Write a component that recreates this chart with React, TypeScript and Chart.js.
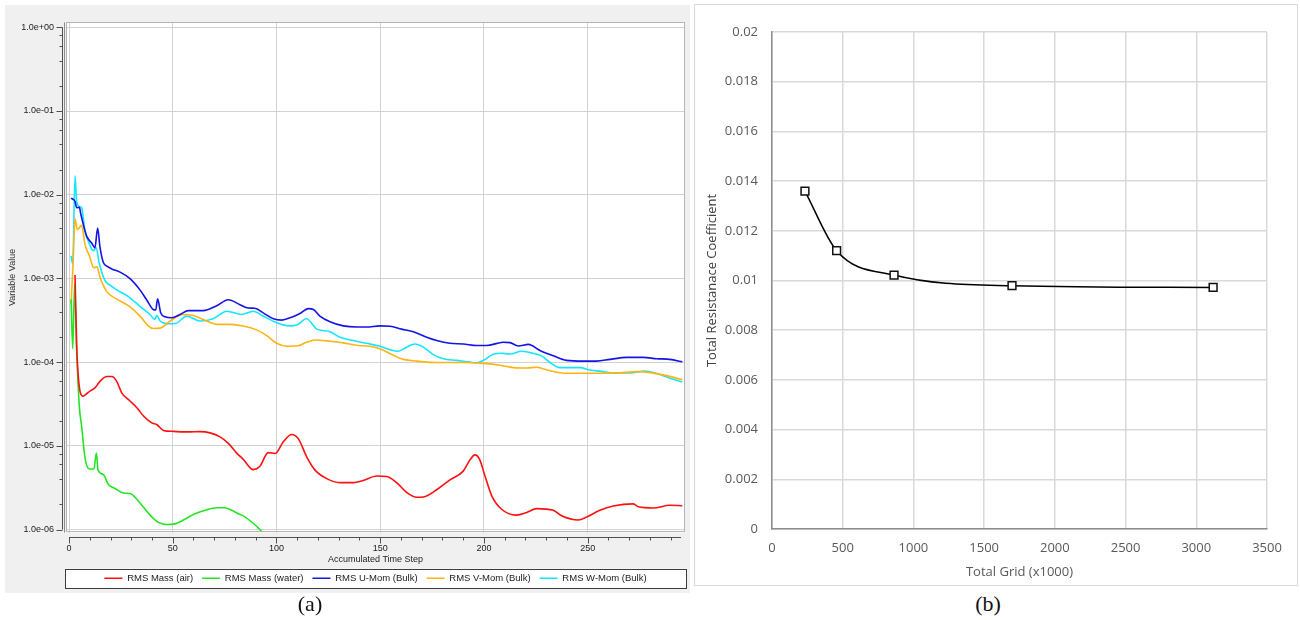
import React, { useEffect, useRef } from "react";
import { Chart, registerables } from "chart.js";

Chart.register(...registerables);

// ---------- (a) residual history ----------
const xTickValuesA = [0, 50, 100, 150, 200, 250];
const xTickLabelsA = ["0", "50", "100", "150", "200", "250"];
const yDecadesA = [1, 1e-1, 1e-2, 1e-3, 1e-4, 1e-5, 1e-6];
const yTickLabelsA = ["1.0e+00", "1.0e-01", "1.0e-02", "1.0e-03", "1.0e-04", "1.0e-05", "1.0e-06"];
const seriesNamesA = ["RMS Mass (air)", "RMS Mass (water)", "RMS U-Mom (Bulk)", "RMS V-Mom (Bulk)", "RMS W-Mom (Bulk)"];

const rmsMassAir: [number, number][] = [
  [2.9, 1.1e-3], [3.7, 1.58e-4], [5.3, 4.5e-5], [6.6, 3.93e-5], [8, 4.1e-5], [10.1, 4.5e-5], [12.5, 4.92e-5],
  [14.9, 5.9e-5], [18.2, 6.74e-5], [20.6, 6.74e-5], [23, 5.9e-5], [25.4, 4.3e-5], [29.4, 3.44e-5], [32.6, 2.88e-5],
  [35.8, 2.29e-5], [39.9, 1.88e-5], [42.3, 1.8e-5], [45.5, 1.53e-5], [50.3, 1.49e-5], [55.1, 1.47e-5], [58.3, 1.47e-5],
  [63.1, 1.48e-5], [68, 1.43e-5], [72.8, 1.28e-5], [76.8, 1.07e-5], [80.8, 8.2e-6], [84, 6.9e-6], [88.8, 5.2e-6],
  [92, 5.7e-6], [96, 8.3e-6], [99.3, 8.1e-6], [103.3, 1.12e-5], [107.3, 1.37e-5], [110.5, 1.22e-5], [114.5, 7.46e-6],
  [118.6, 5.13e-6], [124.2, 4.06e-6], [130.6, 3.64e-6], [137, 3.64e-6], [141.8, 3.85e-6], [148.3, 4.36e-6],
  [153.1, 4.3e-6], [157.9, 3.64e-6], [162.7, 2.78e-6], [167.6, 2.43e-6], [170.8, 2.45e-6], [177.2, 2.99e-6],
  [183.6, 3.92e-6], [190, 4.99e-6], [193.3, 6.82e-6], [195.7, 7.8e-6], [198, 6.8e-6], [200.5, 4.36e-6],
  [203.7, 2.55e-6], [208.5, 1.75e-6], [215.7, 1.49e-6], [220.6, 1.6e-6], [225.4, 1.78e-6], [233.4, 1.7e-6],
  [237.4, 1.46e-6], [245.5, 1.3e-6], [249.5, 1.41e-6], [255.9, 1.7e-6], [262.3, 1.91e-6], [272, 2.03e-6],
  [274.4, 1.87e-6], [281.6, 1.81e-6], [289.6, 1.95e-6], [295.6, 1.93e-6],
];

const rmsMassWater: [number, number][] = [
  [1, 5.6e-4], [1.8, 1.45e-4], [2.7, 8.7e-4], [3.6, 1.58e-4], [5, 2.9e-5], [6.1, 1.7e-5], [7.7, 7.2e-6],
  [9.8, 5.3e-6], [12, 5.3e-6], [13.2, 8.2e-6], [14, 5.1e-6], [16.5, 4.56e-6], [18.9, 3.48e-6], [22.2, 3.1e-6],
  [26.2, 2.73e-6], [29.4, 2.7e-6], [32.6, 2.32e-6], [35.8, 1.86e-6], [39.9, 1.42e-6], [43.1, 1.22e-6],
  [47.1, 1.15e-6], [51.1, 1.17e-6], [55.1, 1.3e-6], [60.7, 1.55e-6], [66.4, 1.73e-6], [71.2, 1.82e-6],
  [75, 1.82e-6], [78.4, 1.7e-6], [82.4, 1.51e-6], [84, 1.46e-6], [88.8, 1.19e-6], [92.9, 9.5e-7],
];

const rmsUMom: [number, number][] = [
  [1, 9.1e-3], [2, 8.8e-3], [2.9, 8.3e-3], [3.7, 7.0e-3], [5, 7.1e-3], [5.6, 6.0e-3], [6.9, 4.4e-3], [8.5, 3.2e-3],
  [10.9, 2.65e-3], [12.5, 2.33e-3], [13.8, 4.0e-3], [14.9, 2.4e-3], [16.5, 1.56e-3], [18.9, 1.37e-3],
  [20.6, 1.3e-3], [24.6, 1.19e-3], [29.4, 9.95e-4], [34.2, 7.3e-4], [37.4, 5.56e-4], [40.6, 4.25e-4],
  [41.8, 4.2e-4], [42.7, 5.7e-4], [44.2, 3.89e-4], [46.3, 3.48e-4], [49.5, 3.39e-4], [53.5, 3.71e-4],
  [57.5, 4.13e-4], [64.7, 4.13e-4], [71.2, 4.73e-4], [76.8, 5.56e-4], [82.4, 4.86e-4], [86.4, 4.43e-4],
  [89.6, 4.4e-4], [93.6, 3.88e-4], [98.5, 3.3e-4], [102.5, 3.18e-4], [107.3, 3.45e-4], [111.3, 3.81e-4],
  [115.3, 4.36e-4], [117.8, 4.25e-4], [120.9, 3.55e-4], [125.8, 3.04e-4], [132.2, 2.71e-4], [138.6, 2.63e-4],
  [143.4, 2.63e-4], [149.9, 2.71e-4], [154.7, 2.68e-4], [160.3, 2.48e-4], [166, 2.31e-4], [172.4, 1.98e-4],
  [177.2, 1.81e-4], [183.6, 1.68e-4], [190, 1.65e-4], [196.5, 1.58e-4], [201.3, 1.58e-4], [209.3, 1.73e-4],
  [212.6, 1.71e-4], [216.5, 1.56e-4], [221.4, 1.63e-4], [227, 1.38e-4], [233.4, 1.19e-4], [239.8, 1.05e-4],
  [247.9, 1.03e-4], [254.3, 1.03e-4], [260.7, 1.08e-4], [268.8, 1.14e-4], [276.8, 1.14e-4], [283.2, 1.1e-4],
  [289.6, 1.08e-4], [295.6, 1.01e-4],
];

const rmsVMom: [number, number][] = [
  [1, 5e-4], [2, 1.6e-3], [2.9, 5.2e-3], [4, 3.83e-3], [6.1, 4.3e-3], [7.7, 2.55e-3], [9.8, 1.87e-3],
  [12, 1.34e-3], [13.5, 1.38e-3], [14.9, 1.04e-3], [18.2, 6.95e-4], [23, 5.65e-4], [28.6, 4.73e-4],
  [34.2, 3.55e-4], [38.2, 2.71e-4], [40.6, 2.52e-4], [43.9, 2.55e-4], [48.7, 3.1e-4], [55.1, 3.71e-4],
  [59.9, 3.6e-4], [66.4, 3.1e-4], [71.2, 2.83e-4], [77.6, 2.83e-4], [84, 2.71e-4], [90.4, 2.43e-4],
  [95.3, 2.07e-4], [100.1, 1.68e-4], [104.9, 1.55e-4], [110.5, 1.57e-4], [114.5, 1.73e-4], [118.6, 1.84e-4],
  [125.8, 1.78e-4], [132.2, 1.7e-4], [139.4, 1.58e-4], [145, 1.55e-4], [150.7, 1.42e-4], [156.3, 1.21e-4],
  [161.1, 1.08e-4], [167.6, 1.03e-4], [177.2, 9.9e-5], [190, 9.9e-5], [199.7, 9.66e-5], [207.7, 9.2e-5],
  [214.1, 8.6e-5], [220.6, 8.5e-5], [225.4, 8.7e-5], [231.8, 7.9e-5], [239.8, 7.37e-5], [251.1, 7.37e-5],
  [264, 7.4e-5], [273.6, 7.7e-5], [281.6, 7.4e-5], [288, 6.9e-5], [295.6, 6.16e-5],
];

const rmsWMom: [number, number][] = [
  [1, 1.86e-3], [1.8, 1.5e-3], [2.9, 1.68e-2], [3.7, 8.2e-3], [5.3, 7.2e-3], [6.1, 7.0e-3], [7.7, 3.7e-3],
  [9.8, 2.6e-3], [11.7, 2.14e-3], [13.1, 2.33e-3], [14.5, 1.55e-3], [17.3, 9.5e-4], [19.8, 8.3e-4], [23, 7.3e-4],
  [28.6, 6.08e-4], [34.2, 4.64e-4], [39, 3.71e-4], [41.4, 3.24e-4], [42.3, 3.6e-4], [43.9, 3.1e-4],
  [47.9, 2.88e-4], [51.4, 2.9e-4], [56.7, 3.55e-4], [63.1, 3.1e-4], [69.5, 3.3e-4], [76, 4.06e-4],
  [83.2, 3.71e-4], [88.8, 4.06e-4], [93.6, 3.55e-4], [100.1, 2.96e-4], [106.5, 2.71e-4], [109.7, 2.77e-4],
  [114.5, 3.3e-4], [119.4, 2.48e-4], [125.8, 2.31e-4], [130.6, 1.98e-4], [137, 1.81e-4], [143.4, 1.68e-4],
  [149.9, 1.55e-4], [154.7, 1.41e-4], [158.7, 1.35e-4], [162.7, 1.51e-4], [166.7, 1.65e-4], [170.8, 1.51e-4],
  [175.6, 1.23e-4], [180.4, 1.1e-4], [186.8, 1.05e-4], [193.3, 1.0e-4], [196.5, 9.8e-5], [199.7, 1.05e-4],
  [204.5, 1.24e-4], [208.5, 1.28e-4], [212.5, 1.25e-4], [218.2, 1.35e-4], [222.2, 1.3e-4], [227.8, 1.19e-4],
  [231.8, 9.9e-5], [236.6, 8.6e-5], [246.3, 8.6e-5], [251.1, 8.06e-5], [257.5, 7.7e-5], [262.3, 7.44e-5],
  [270.4, 7.44e-5], [277.6, 7.85e-5], [283.2, 7.3e-5], [289.6, 6.44e-5], [295.6, 5.78e-5],
];

// ---------- (b) grid independence ----------
const totalGrid = [233, 457, 863, 1697, 3119];
const resistanceCoeff = [0.0136, 0.0112, 0.01022, 0.00979, 0.00972];
const xTickLabelsB = ["0", "500", "1000", "1500", "2000", "2500", "3000", "3500"];
const yTickLabelsB = ["0", "0.002", "0.004", "0.006", "0.008", "0.01", "0.012", "0.014", "0.016", "0.018", "0.02"];

const FONT_A = "'Liberation Sans', Arial, sans-serif";
const FONT_B = "'Open Sans', 'Liberation Sans', sans-serif";

const decorA = {
  id: "decorA",
  beforeDraw(chart: any) {
    const { ctx, chartArea: ca } = chart;
    ctx.save();
    ctx.fillStyle = "#ffffff";
    ctx.fillRect(ca.left, ca.top, ca.right - ca.left, ca.bottom - ca.top);
    const hb = chart.legend && chart.legend.legendHitBoxes;
    if (hb && hb.length) {
      const cy = hb[0].top + hb[0].height / 2;
      ctx.fillRect(ca.left - 1, cy - 9.5, ca.right - ca.left + 3, 19);
      ctx.strokeStyle = "#3c3c3c";
      ctx.lineWidth = 1;
      ctx.strokeRect(Math.round(ca.left - 1) + 0.5, Math.round(cy - 9.5) + 0.5, Math.round(ca.right - ca.left + 2), 19);
    }
    ctx.restore();
  },
  afterDraw(chart: any) {
    const { ctx, chartArea: ca, scales } = chart;
    const xs = scales.x;
    const ys = scales.y;
    ctx.save();
    // plot frame
    ctx.strokeStyle = "#b4b4b4";
    ctx.lineWidth = 1;
    ctx.strokeRect(Math.round(ca.left) + 0.5, Math.round(ca.top) + 0.5, Math.round(ca.right - ca.left) - 1, Math.round(ca.bottom - ca.top) - 1);
    ctx.strokeStyle = "#8a8a8a";
    ctx.beginPath();
    ctx.moveTo(Math.round(ca.left) - 1.5, ca.top);
    ctx.lineTo(Math.round(ca.left) - 1.5, ca.bottom);
    ctx.stroke();
    // y axis line + ticks (minor at 2,4,6,8 of each decade)
    ctx.strokeStyle = "#505050";
    const ax = Math.round(ca.left) - 3.5;
    const yTop = ys.getPixelForValue(1);
    const yBot = ys.getPixelForValue(1e-6);
    ctx.beginPath();
    ctx.moveTo(ax, yTop);
    ctx.lineTo(ax, yBot);
    for (const d of yDecadesA) {
      const y = Math.round(ys.getPixelForValue(d)) + 0.5;
      ctx.moveTo(ax, y);
      ctx.lineTo(ax - 6, y);
      if (d > 1e-6) {
        for (let k = 2; k <= 8; k += 2) {
          const yy = Math.round(ys.getPixelForValue((d * k) / 10)) + 0.5;
          ctx.moveTo(ax, yy);
          ctx.lineTo(ax - 3, yy);
        }
      }
    }
    ctx.stroke();
    // x axis line + ticks
    const ay = Math.round(ca.bottom) + 4.5;
    const x0 = xs.getPixelForValue(0);
    ctx.beginPath();
    ctx.moveTo(x0, ay);
    ctx.lineTo(ca.right - 4, ay);
    for (let v = 0; v <= 290; v += 10) {
      const x = Math.round(xs.getPixelForValue(v)) + 0.5;
      ctx.moveTo(x, ay);
      ctx.lineTo(x, ay + (v % 50 === 0 ? 6 : 3));
    }
    ctx.stroke();
    ctx.restore();
  },
};

function makeLine(label: string, pts: [number, number][], color: string) {
  return {
    label,
    data: pts.map(([x, y]) => ({ x, y })),
    showLine: true,
    borderColor: color,
    backgroundColor: color,
    borderWidth: 1.6,
    pointRadius: 0,
    cubicInterpolationMode: "monotone",
    fill: false,
  };
}

export default function App() {
  const leftRef = useRef<HTMLCanvasElement>(null);
  const rightRef = useRef<HTMLCanvasElement>(null);

  useEffect(() => {
    const chartA = new Chart(leftRef.current as HTMLCanvasElement, {
      type: "scatter",
      data: {
        datasets: [
          makeLine(seriesNamesA[0], rmsMassAir, "#ff1010"),
          makeLine(seriesNamesA[1], rmsMassWater, "#22e622"),
          makeLine(seriesNamesA[2], rmsUMom, "#1414e6"),
          makeLine(seriesNamesA[3], rmsVMom, "#ffb414"),
          makeLine(seriesNamesA[4], rmsWMom, "#14e6ff"),
        ] as any,
      },
      options: {
        animation: false,
        responsive: false,
        events: [],
        layout: { padding: { top: 5, right: 5, left: 0, bottom: 0 } },
        plugins: {
          tooltip: { enabled: false },
          legend: {
            position: "bottom",
            fullSize: false,
            labels: {
              usePointStyle: true,
              pointStyle: "line",
              pointStyleWidth: 18,
              padding: 9,
              color: "#222",
              font: { family: FONT_A, size: 9.5 },
            },
          },
        },
        scales: {
          x: {
            type: "linear",
            min: -1.45,
            max: 296.9,
            afterBuildTicks: (s: any) => {
              s.ticks = xTickValuesA.map((v) => ({ value: v }));
            },
            afterFit: (s: any) => {
              s.height = 32;
            },
            ticks: {
              callback: (_v: any, i: number) => xTickLabelsA[i],
              color: "#222",
              font: { family: FONT_A, size: 9 },
              padding: 11,
              maxRotation: 0,
              autoSkip: false,
            },
            grid: { color: "#d2d2d2", lineWidth: 1, drawTicks: false },
            border: { display: false },
            title: {
              display: true,
              text: "Accumulated Time Step",
              color: "#222",
              font: { family: FONT_A, size: 9 },
              padding: { top: 0, bottom: 0 },
            },
          },
          y: {
            type: "logarithmic",
            min: 9.23e-7,
            max: 1.144,
            afterBuildTicks: (s: any) => {
              s.ticks = yDecadesA.map((v) => ({ value: v }));
            },
            afterFit: (s: any) => {
              s.width = 61;
            },
            ticks: {
              callback: (_v: any, i: number) => yTickLabelsA[i],
              color: "#222",
              font: { family: FONT_A, size: 9 },
              padding: 12,
              autoSkip: false,
            },
            grid: { color: "#d2d2d2", lineWidth: 1, drawTicks: false },
            border: { display: false },
            title: {
              display: true,
              text: "Variable Value",
              color: "#333",
              font: { family: FONT_A, size: 9 },
              padding: { top: 2, bottom: 0 },
            },
          },
        },
      } as any,
      plugins: [decorA],
    });

    const chartB = new Chart(rightRef.current as HTMLCanvasElement, {
      type: "scatter",
      data: {
        datasets: [
          {
            label: "Total Resistanace Coefficient",
            data: totalGrid.map((x, i) => ({ x, y: resistanceCoeff[i] })),
            showLine: true,
            borderColor: "#000",
            borderWidth: 1.5,
            cubicInterpolationMode: "monotone",
            pointStyle: "rect",
            pointRadius: 5.5,
            pointBackgroundColor: "#fff",
            pointBorderColor: "#111",
            pointBorderWidth: 1.5,
          },
        ] as any,
      },
      options: {
        animation: false,
        responsive: false,
        events: [],
        layout: { padding: { top: 27, right: 30, left: 0, bottom: 0 } },
        plugins: { legend: { display: false }, tooltip: { enabled: false } },
        scales: {
          x: {
            type: "linear",
            min: 0,
            max: 3500,
            afterFit: (s: any) => {
              s.height = 56;
            },
            ticks: {
              stepSize: 500,
              callback: (_v: any, i: number) => xTickLabelsB[i],
              color: "#595959",
              font: { family: FONT_B, size: 13 },
              padding: 11,
              maxRotation: 0,
              autoSkip: false,
            },
            grid: { color: "#d9d9d9", lineWidth: 1.5, drawTicks: false },
            border: { color: "#8c8c8c", width: 1.5 },
            title: {
              display: true,
              text: "Total Grid (x1000)",
              color: "#595959",
              font: { family: FONT_B, size: 13 },
              padding: { top: 0, bottom: 5 },
            },
          },
          y: {
            type: "linear",
            min: 0,
            max: 0.02,
            afterFit: (s: any) => {
              s.width = 77;
            },
            ticks: {
              stepSize: 0.002,
              callback: (_v: any, i: number) => yTickLabelsB[i],
              color: "#595959",
              font: { family: FONT_B, size: 13 },
              padding: 14,
              autoSkip: false,
            },
            grid: { color: "#d9d9d9", lineWidth: 1.5, drawTicks: false },
            border: { color: "#8c8c8c", width: 1.5 },
            title: {
              display: true,
              text: "Total Resistanace Coefficient",
              color: "#404040",
              font: { family: FONT_B, size: 13 },
              padding: { top: 9, bottom: 0 },
            },
          },
        },
      } as any,
    });

    return () => {
      chartA.destroy();
      chartB.destroy();
    };
  }, []);

  const capStyle: React.CSSProperties = {
    position: "absolute",
    transform: "translate(-50%, -50%)",
    fontFamily: "'Liberation Serif', 'DejaVu Serif', serif",
    fontSize: 22,
    color: "#111",
    whiteSpace: "nowrap",
  };

  return (
    <div style={{ position: "absolute", left: 0, top: 0, width: 1300, height: 620, background: "#fff", overflow: "hidden" }}>
      <canvas
        ref={leftRef}
        width={685}
        height={588}
        style={{ position: "absolute", left: 5, top: 5, width: 685, height: 588, background: "#f0f0f0" }}
      />
      <canvas
        ref={rightRef}
        width={602}
        height={580}
        style={{ position: "absolute", left: 695, top: 5, width: 602, height: 580, outline: "1px solid #d9d9d9" }}
      />
      <div style={{ ...capStyle, left: 310, top: 604 }}>(a)</div>
      <div style={{ ...capStyle, left: 988, top: 604 }}>(b)</div>
    </div>
  );
}
